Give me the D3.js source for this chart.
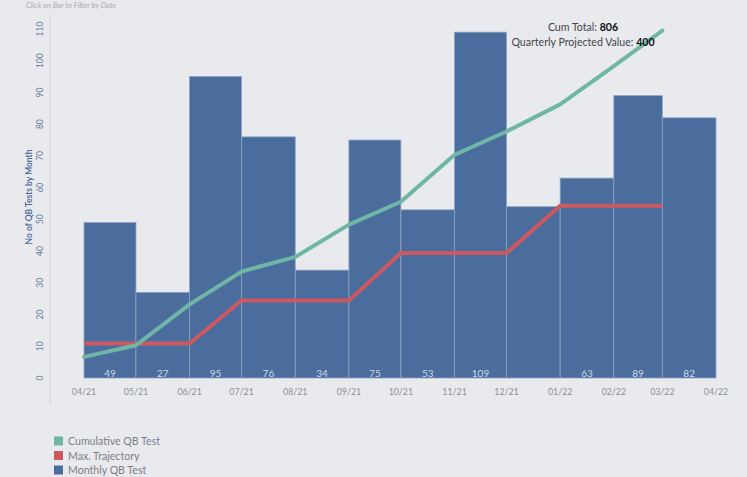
<!DOCTYPE html>
<html>
<head>
<meta charset="utf-8">
<script src="https://cdn.jsdelivr.net/npm/d3@7"></script>
<style>
  body { margin: 0; background: #e9eaee; }
  svg { display: block; font-family: Lato, "Open Sans", sans-serif; }
</style>
</head>
<body>
<div id="chart"></div>
<script>
// Month starts (each bar covers one calendar month)
const months = ["2021-04", "2021-05", "2021-06", "2021-07", "2021-08", "2021-09",
                "2021-10", "2021-11", "2021-12", "2022-01", "2022-02", "2022-03"];
const monthlyTests = [49, 27, 95, 76, 34, 75, 53, 109, 54, 63, 89, 82];
// labels shown inside bars (Dec label is hidden in the original)
const barLabels = ["49", "27", "95", "76", "34", "75", "53", "109", "", "63", "89", "82"];
const cumulativeTests = [49, 76, 171, 247, 281, 356, 409, 518, 572, 635, 724, 806];
const maxTrajectory = [80, 80, 80, 180, 180, 180, 290, 290, 290, 400, 400, 400];
const yTicks = [0, 10, 20, 30, 40, 50, 60, 70, 80, 90, 100, 110];
const tickDates = ["2021-04", "2021-05", "2021-06", "2021-07", "2021-08", "2021-09", "2021-10",
                   "2021-11", "2021-12", "2022-01", "2022-02", "2022-03", "2022-04"];
const legendItems = [
    { name: "Cumulative QB Test", color: "#70b6a6" },
    { name: "Max. Trajectory", color: "#cc5961" },
    { name: "Monthly QB Test", color: "#4a6d9e" }
];
const cumTotal = 806;
const projectedValue = 400;

const width = 747, height = 477;
const parse = d3.timeParse("%Y-%m");
const fmt = d3.timeFormat("%m/%y");

const svg = d3.select("#chart").append("svg")
    .attr("width", width)
    .attr("height", height);

svg.append("rect").attr("width", width).attr("height", height).attr("fill", "#e9eaee");

// Scales
const x = d3.scaleTime()
    .domain([parse("2021-04"), parse("2022-04")])
    .range([84, 716]);
const y = d3.scaleLinear().domain([0, 110]).range([378, 29]);
// hidden secondary axis for the cumulative measures
const y2 = d3.scaleLinear().domain([0, 810]).range([378, 29]);

// Hint text at top
svg.append("text")
    .attr("x", 26).attr("y", 8)
    .attr("font-size", 7.6).attr("font-style", "italic")
    .attr("fill", "#a9acb4")
    .text("Click on Bar to Filter by Date");

// Y axis line
svg.append("line")
    .attr("x1", 50).attr("x2", 50).attr("y1", 14).attr("y2", 405)
    .attr("stroke", "#d3d5db").attr("stroke-width", 1);

// Y tick labels (rotated)
svg.append("g").selectAll("text")
    .data(yTicks)
    .join("text")
    .attr("transform", d => `translate(43,${y(d)}) rotate(-90)`)
    .attr("text-anchor", "middle")
    .attr("font-size", 8.5)
    .attr("fill", "#6a7b98")
    .text(d => d);

// Y axis title
svg.append("text")
    .attr("transform", `translate(32,197) rotate(-90)`)
    .attr("text-anchor", "middle")
    .attr("font-size", 8.5)
    .attr("font-weight", 600)
    .attr("fill", "#46649a")
    .text("No of QB Tests by Month");

// Bars
const barData = months.map((m, i) => {
    const start = parse(m);
    return { start, end: d3.timeMonth.offset(start, 1), value: monthlyTests[i], label: barLabels[i] };
});

svg.append("g").selectAll("rect")
    .data(barData)
    .join("rect")
    .attr("x", d => x(d.start))
    .attr("y", d => y(d.value))
    .attr("width", d => x(d.end) - x(d.start))
    .attr("height", d => y(0) - y(d.value))
    .attr("fill", "#4a6d9e")
    .attr("stroke", "#8da2c4")
    .attr("stroke-width", 0.8);

// Bar value labels
svg.append("g").selectAll("text")
    .data(barData)
    .join("text")
    .attr("x", d => (x(d.start) + x(d.end)) / 2)
    .attr("y", 377)
    .attr("text-anchor", "middle")
    .attr("font-size", 10)
    .attr("fill", "#cfd8e6")
    .text(d => d.label);

// X tick labels
svg.append("g").selectAll("text")
    .data(tickDates.map(parse))
    .join("text")
    .attr("x", d => x(d))
    .attr("y", 395)
    .attr("text-anchor", "middle")
    .attr("font-size", 8.8)
    .attr("fill", "#8c8f96")
    .text(d => fmt(d));

// Lines
const lineGen = d3.line()
    .x(d => x(d.date))
    .y(d => y2(d.value));

const trajData = months.map((m, i) => ({ date: parse(m), value: maxTrajectory[i] }));
const cumData = months.map((m, i) => ({ date: parse(m), value: cumulativeTests[i] }));

svg.append("path")
    .datum(trajData)
    .attr("d", lineGen)
    .attr("fill", "none")
    .attr("stroke", "#cc5961")
    .attr("stroke-width", 4)
    .attr("stroke-linejoin", "round");

svg.append("path")
    .datum(cumData)
    .attr("d", lineGen)
    .attr("fill", "none")
    .attr("stroke", "#70b6a6")
    .attr("stroke-width", 4)
    .attr("stroke-linejoin", "round")
    .attr("stroke-linecap", "round");

// Annotation
const ann = svg.append("g").attr("font-size", 10.6).attr("fill", "#454545").attr("text-anchor", "middle");
const t1 = ann.append("text").attr("x", 583).attr("y", 31);
t1.append("tspan").text("Cum Total: ");
t1.append("tspan").attr("font-weight", "bold").attr("fill", "#111").text(cumTotal);
const t2 = ann.append("text").attr("x", 583).attr("y", 46);
t2.append("tspan").text("Quarterly Projected Value: ");
t2.append("tspan").attr("font-weight", "bold").attr("fill", "#111").text(projectedValue);

// Legend
const legend = svg.append("g").selectAll("g")
    .data(legendItems)
    .join("g")
    .attr("transform", (d, i) => `translate(54,${441 + i * 14.5})`);

legend.append("rect")
    .attr("x", 0).attr("y", -4.5)
    .attr("width", 9).attr("height", 9)
    .attr("fill", d => d.color);

legend.append("text")
    .attr("x", 14).attr("y", 4)
    .attr("font-size", 10.6)
    .attr("fill", "#7b7e86")
    .text(d => d.name);
</script>
</body>
</html>
